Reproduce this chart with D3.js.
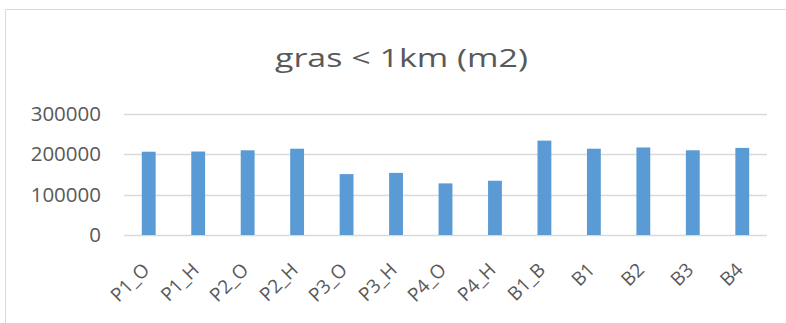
<!DOCTYPE html>
<html>
<head>
<meta charset="utf-8">
<script src="https://cdn.jsdelivr.net/npm/d3@7"></script>
<style>
  html, body { margin: 0; padding: 0; background: #fff; }
  svg { display: block; }
</style>
</head>
<body>
<svg id="chart" width="786" height="323"></svg>
<script>
// Grass area within 1 km, per site (m2)
const categories = ["P1_O", "P1_H", "P2_O", "P2_H", "P3_O", "P3_H", "P4_O", "P4_H", "B1_B", "B1", "B2", "B3", "B4"];
const values = [206500, 207000, 210000, 214000, 151000, 154000, 128000, 134500, 234000, 214000, 217000, 210000, 216000];
const yTicks = [0, 100000, 200000, 300000];
const title = "gras < 1km (m2)";

const svg = d3.select("#chart");
const W = 786, H = 323;
const margin = { top: 114, right: 19, bottom: 88, left: 124 };
const textColor = "#595959";
const font = "'Open Sans', sans-serif";

// chart frame
svg.append("path")
  .attr("d", `M5.5,${H} V9.5 H${W}`)
  .attr("fill", "none")
  .attr("stroke", "#d9d9d9")
  .attr("stroke-width", 1);

svg.append("text")
  .attr("x", 401.5)
  .attr("y", 67)
  .attr("text-anchor", "middle")
  .attr("font-family", font)
  .attr("font-size", 26)
  .attr("textLength", 253)
  .attr("lengthAdjust", "spacingAndGlyphs")
  .attr("fill", textColor)
  .text(title);

const x = d3.scaleBand()
  .domain(categories)
  .range([margin.left, W - margin.right])
  .paddingInner(0.72)
  .paddingOuter(0.36);

const y = d3.scaleLinear()
  .domain([0, 300000])
  .range([H - margin.bottom, margin.top]);

// gridlines
svg.append("g")
  .selectAll("line")
  .data(yTicks)
  .join("line")
  .attr("x1", margin.left)
  .attr("x2", W - margin.right)
  .attr("y1", d => Math.round(y(d)) + 0.5)
  .attr("y2", d => Math.round(y(d)) + 0.5)
  .attr("stroke", "#d9d9d9")
  .attr("stroke-width", 1.5);

// y axis labels
const yAxis = d3.axisLeft(y).tickValues(yTicks).tickSize(0).tickPadding(0).tickFormat(d3.format("d"));
const gy = svg.append("g")
  .attr("transform", `translate(101,0)`)
  .call(yAxis);
gy.select(".domain").remove();
gy.selectAll("text")
  .attr("font-family", font)
  .attr("font-size", 20.5)
  .attr("fill", textColor);

// bars
svg.append("g")
  .selectAll("rect")
  .data(values)
  .join("rect")
  .attr("x", (d, i) => x(categories[i]))
  .attr("width", x.bandwidth())
  .attr("y", d => y(d))
  .attr("height", d => y(0) - y(d))
  .attr("fill", "#5b9bd5");

// x axis labels, rotated
const xAxis = d3.axisBottom(x).tickSize(0).tickPadding(0);
const gx = svg.append("g")
  .attr("transform", `translate(0,${y(0)})`)
  .call(xAxis);
gx.select(".domain").remove();
gx.selectAll("text")
  .attr("font-family", font)
  .attr("font-size", 19)
  .attr("fill", textColor)
  .attr("text-anchor", "end")
  .attr("y", 0)
  .attr("dy", null)
  .attr("transform", "translate(2,36) rotate(-45)");
</script>
</body>
</html>
